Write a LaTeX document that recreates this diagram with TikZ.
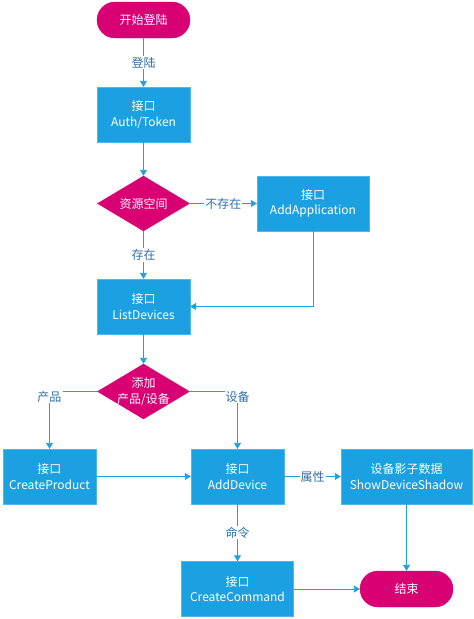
\documentclass[tikz,border=0pt]{standalone}
\usepackage{fontspec}
\setmainfont{Noto Sans CJK SC}
\usetikzlibrary{shapes.geometric,arrows.meta}
\definecolor{boxblue}{HTML}{1BA1E2}
\definecolor{boxedge}{HTML}{4DB6EA}
\definecolor{startred}{HTML}{D80073}
\definecolor{labelblue}{HTML}{2F6FA8}
\tikzset{
  terminal/.style={
    draw=startred,
    fill=startred,
    text=white,
    rounded corners=18pt,
    minimum width=93pt,
    minimum height=36pt,
    inner sep=0pt
  },
  api/.style={
    draw=boxedge,
    fill=boxblue,
    text=white,
    align=center,
    inner sep=0pt,
    minimum width=93pt,
    minimum height=55pt
  },
  decision/.style={
    shape=diamond,
    draw=startred,
    fill=startred,
    text=white,
    align=center,
    aspect=1.67,
    inner sep=0pt,
    minimum width=92pt,
    minimum height=55pt
  },
  flow/.style={
    draw=boxblue,
    line width=0.9pt,
    -{Triangle[length=6pt,width=7pt]}
  },
  flowtext/.style={
    fill=white,
    text=labelblue,
    inner sep=1pt
  },
  every picture/.style = {
    %scale=1.2,
    font=\fontsize{12}{15.5}\selectfont
  }
}
\begin{document}
\begin{tikzpicture}[x=1pt,y=-1pt]
            \useasboundingbox (0,0) rectangle (474,619);
            \node[terminal] (st) at (143.5,20) {开始登陆};
            \node[api] (auth) at (143.5,114.5) {接口\\Auth/Token};
            \node[decision] (res) at (143.5,203.5) {资源空间};
            \node[api, minimum width=112pt] (app) at (313,203.5) {接口\\AddApplication};
            \node[api] (list) at (143.5,306.5) {接口\\ListDevices};
            \node[decision, inner sep=-6pt] (add) at (143.5,391.5) {添加\\产品/设备};
            \node[api] (prod) at (49.5,476.5) {接口\\CreateProduct};
            \node[api] (dev) at (237.5,476.5) {接口\\AddDevice};
            \node[api, minimum width=131pt] (shadow) at (406.5,476.5) {设备影子数据\\ShowDeviceShadow};
            \node[api, minimum width=112pt] (cmd) at (237.5,589) {接口\\CreateCommand};
            \node[terminal] (fin) at (406.5,589) {结束};
            \draw[flow] (st) -- node[flowtext] {登陆} (auth);
            \draw[flow] (auth) -- (res);
            \draw[flow] (res) -- node[flowtext] {不存在} (app);
            \draw[flow] (res) -- node[flowtext] {存在} (list);
            \draw[flow] (app) |- (list);
            \draw[flow] (list) -- (add);
            \draw[flow] (add) -| node[flowtext, pos=0.5, yshift=-5pt] {产品} (prod);
            \draw[flow] (add) -| node[flowtext, pos=0.5, yshift=-5pt] {设备} (dev);
            \draw[flow] (prod) -- (dev);
            \draw[flow] (dev) -- node[flowtext] {属性} (shadow);
            \draw[flow] (dev) -- node[flowtext] {命令} (cmd);
            \draw[flow] (shadow) -- (fin);
            \draw[flow] (cmd) -- (fin);
        \end{tikzpicture}
\end{document}
